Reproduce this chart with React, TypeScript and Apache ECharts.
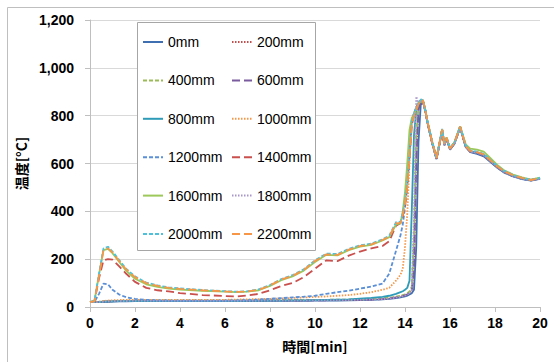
import React, { useEffect, useRef } from "react";
import * as echarts from "echarts";

const T = [0, 0.2, 0.4, 0.6, 0.8, 1.0, 1.3, 1.6, 2.0, 2.5, 3.0, 3.5, 4.0, 5.0, 6.0, 6.5, 7.0, 7.5, 8.0, 8.5, 9.0, 9.5, 10.0, 10.5, 11.0, 11.5, 12.0, 12.5, 13.0, 13.3, 13.6, 13.8, 13.9, 14.0, 14.1, 14.2, 14.3, 14.4, 14.5, 14.6, 14.7, 14.8, 14.9, 15.0, 15.2, 15.4, 15.55, 15.65, 15.75, 15.85, 16.0, 16.2, 16.45, 16.7, 16.9, 17.2, 17.5, 17.8, 18.1, 18.4, 18.8, 19.2, 19.6, 20.0];

const NAMES = ["0mm", "200mm", "400mm", "600mm", "800mm", "1000mm", "1200mm", "1400mm", "1600mm", "1800mm", "2000mm", "2200mm"];

const s0 = [20,20,20,21,22,23,24,24,25,25,25,25,25,25,25,25,25,25,26,26,26,26,27,27,27,28,29,30,32,34,37,40,42,44,47,52,58,72,250,690,845, 858,822,772,688,618,688,738,676,703,658,683,750,668,648,640,630,606,582,562,546,535,528,536];
const s200 = [20,20,21,22,23,24,25,26,26,27,27,27,27,27,27,27,27,27,28,28,28,28,29,29,30,30,31,32,34,37,41,45,47,50,54,60,70,180,640,830,856, 860,820,770,690,620,690,740,678,705,660,685,752,670,650,645,635,610,585,565,548,537,530,538];
const s400 = [20,20,21,23,24,25,26,27,27,28,28,28,28,28,28,28,28,28,29,29,29,29,30,30,31,31,32,33,36,39,43,47,50,53,58,65,85,300,720,835,858, 862,824,774,692,622,692,742,680,707,662,687,754,672,652,648,638,612,587,567,550,539,531,539];
const s600 = [20,20,21,22,23,24,25,25,26,26,26,26,26,26,26,26,26,26,27,27,27,27,28,28,29,29,30,31,33,36,40,44,46,49,53,58,66,150,600,825,855, 859,818,768,688,619,689,739,677,704,659,684,751,669,649,643,633,608,584,564,547,536,529,537];
const s800 = [20,20,21,22,23,24,25,25,25,25,25,25,25,25,25,25,26,26,27,27,28,28,29,30,31,32,35,38,42,47,55,62,66,72,80,110,400,720,820,848,862, 861,823,773,691,621,691,741,679,706,661,686,753,671,651,646,636,611,586,566,549,538,530,538];
const s1000 = [20,20,22,25,27,28,29,30,30,30,30,30,30,30,30,31,32,33,34,36,38,40,42,44,47,50,55,62,72,80,110,135,160,250,390,600,780,810,835,855,865, 860,821,771,690,620,690,740,678,705,660,685,752,670,650,645,635,610,585,565,548,537,530,538];
const s1200 = [20,22,55,98,95,72,52,41,34,30,28,27,27,27,27,28,29,31,34,37,40,43,47,55,62,68,77,85,98,140,235,300,345,415,520,650,780,810,835,855,865, 862,822,772,691,620,691,741,679,706,661,686,753,671,651,644,634,609,584,564,547,536,529,537];
const s1400 = [20,25,120,195,200,198,170,140,105,80,70,65,58,50,46,44,48,55,70,88,100,125,160,195,192,215,232,245,255,275,340,350,380,420,500,620,760,800,825,850,862, 863,823,773,692,621,692,742,680,707,662,687,754,672,652,647,637,612,587,567,550,539,531,539];
const s1600 = [20,26,135,238,243,225,188,152,118,95,84,77,73,68,64,62,64,70,88,112,128,152,188,218,216,238,252,260,278,292,345,350,400,480,600,740,790,805,825,850,862, 864,825,776,694,624,694,744,682,709,664,689,756,680,662,658,650,622,594,572,554,542,533,541];
const s1800 = [20,20,21,22,23,24,25,25,26,26,26,26,26,26,26,26,26,26,27,27,27,27,28,28,29,29,30,31,33,35,39,42,45,48,52,57,68,380,880,850,860, 861,821,771,690,620,690,740,678,705,660,685,752,670,650,646,636,611,586,566,549,538,530,538];
const s2000 = [20,28,140,245,252,232,196,160,128,102,90,82,78,71,66,64,66,74,92,117,133,158,195,223,222,243,258,265,283,298,355,357,395,440,520,640,775,810,830,855,868, 865,826,777,695,625,695,745,683,710,665,690,757,675,655,650,640,615,590,570,552,540,532,540];
const s2200 = [20,25,130,238,245,228,192,158,125,100,88,80,76,70,65,63,65,72,90,115,130,155,192,220,218,240,255,262,280,295,350,352,385,430,500,620,760,800,825,850,865, 864,824,775,693,623,693,743,681,708,663,688,755,673,653,648,638,613,588,568,551,540,531,539];

const VALUES = [s0, s200, s400, s600, s800, s1000, s1200, s1400, s1600, s1800, s2000, s2200];

const Y_TICKS = [0, 200, 400, 600, 800, 1000, 1200];

const COLORS = ["#3F6FB0", "#C0504D", "#9BBB59", "#7A5C9E", "#2E9BB8", "#F79646", "#5B8FD6", "#C9504D", "#9CC95A", "#A895C9", "#4FC0DA", "#F79646"];
const DASHES: any[] = ["solid", [1.5, 1.5], [4, 2], [8, 4], "solid", [1.5, 1.5], [4, 2], [8, 4], "solid", [1.5, 1.5], [4, 2], [8, 4]];

const FONT = "Liberation Sans";

export default function App() {
  const ref = useRef<HTMLDivElement>(null);
  useEffect(() => {
    if (!ref.current) return;
    const chart = echarts.init(ref.current, null, { renderer: "svg" });
    const series = NAMES.map((name, k) => ({
      name,
      type: "line",
      data: T.map((t, i) => [t, VALUES[k][i]]),
      showSymbol: false,
      symbol: "none",
      lineStyle: { color: COLORS[k], width: 1.8, type: DASHES[k] },
      itemStyle: { color: COLORS[k] },
    }));
    const legendBase = {
      orient: "vertical",
      top: 35,
      itemWidth: 20,
      itemHeight: 14,
      itemGap: 24.4,
      padding: 0,
      z: 5,
      itemStyle: { opacity: 0, borderWidth: 0 },
      textStyle: { fontSize: 14, fontFamily: FONT, color: "#000" },
    };
    chart.setOption({
      animation: false,
      backgroundColor: "#fff",
      grid: { left: 90, right: 14, top: 20, bottom: 55, containLabel: false },
      xAxis: {
        type: "value",
        min: 0,
        max: 20,
        interval: 2,
        name: "時間[min]",
        nameLocation: "middle",
        nameGap: 32,
        nameTextStyle: { fontSize: 14, fontWeight: "bold", fontFamily: "Noto Sans CJK JP", color: "#000" },
        axisLine: { show: true, lineStyle: { color: "#BFBFBF" } },
        axisTick: { show: true, inside: false, length: 5, lineStyle: { color: "#BFBFBF" } },
        splitLine: { show: false },
        axisLabel: { fontSize: 14, fontWeight: "bold", fontFamily: FONT, color: "#000", margin: 9 },
      },
      yAxis: {
        type: "value",
        min: Y_TICKS[0],
        max: Y_TICKS[Y_TICKS.length - 1],
        interval: 200,
        name: "温度[°C]",
        nameLocation: "middle",
        nameRotate: 90,
        nameGap: 60,
        nameTextStyle: { fontSize: 14, fontWeight: "bold", fontFamily: "Noto Sans CJK JP", color: "#000" },
        axisLine: { show: true, lineStyle: { color: "#BFBFBF" } },
        axisTick: { show: true, inside: false, length: 5, lineStyle: { color: "#BFBFBF" } },
        splitLine: { show: true, lineStyle: { color: "#D9D9D9" } },
        axisLabel: {
          fontSize: 14,
          fontWeight: "bold",
          fontFamily: FONT,
          color: "#000",
          margin: 16,
          formatter: (v: number) => v.toLocaleString("en-US"),
        },
      },
      legend: [
        { ...legendBase, left: 142, data: NAMES.filter((_, i) => i % 2 === 0) },
        { ...legendBase, left: 231, data: NAMES.filter((_, i) => i % 2 === 1) },
      ],
      graphic: [
        {
          type: "rect",
          z: 0,
          silent: true,
          shape: { x: 7.5, y: 7.5, width: 600, height: 400 },
          style: { fill: "transparent", stroke: "#BFBFBF", lineWidth: 1 },
        },
        {
          type: "rect",
          z: 3,
          silent: true,
          shape: { x: 137.5, y: 22.5, width: 178, height: 228 },
          style: { fill: "#fff", stroke: "#A6A6A6", lineWidth: 1 },
        },
      ],
      series,
    });
    return () => chart.dispose();
  }, []);
  return <div ref={ref} style={{ position: "fixed", left: 0, top: 0, width: 554, height: 362 }} />;
}
